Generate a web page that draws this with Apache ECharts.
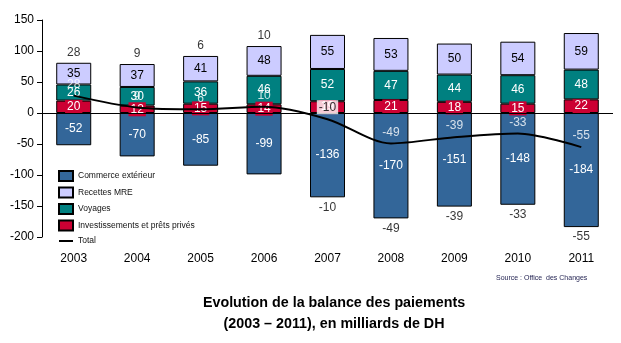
<!DOCTYPE html>
<html>
<head>
<meta charset="utf-8">
<script src="https://cdn.jsdelivr.net/npm/echarts@6/dist/echarts.min.js"></script>
<style>
  html, body { margin: 0; padding: 0; background: #fff; }
  #chart { width: 621px; height: 343px; }
</style>
</head>
<body>
<div id="chart"></div>
<script>
const years = ['2003', '2004', '2005', '2006', '2007', '2008', '2009', '2010', '2011'];
const commerce = [-52, -70, -85, -99, -136, -170, -151, -148, -184];
const investissements = [20, 12, 15, 14, 19, 21, 18, 15, 22];
const voyages = [26, 30, 36, 46, 52, 47, 44, 46, 48];
const recettesMRE = [35, 37, 41, 48, 55, 53, 50, 54, 59];
const total = [28, 9, 6, 10, -10, -49, -39, -33, -55];
const yTicks = [-200, -150, -100, -50, 0, 50, 100, 150];

const font = 'Liberation Sans';

// total shown above the stack when positive, below it when negative
const stackEdge = years.map((y, i) => {
  if (total[i] >= 0) {
    const pos = [investissements[i], voyages[i], recettesMRE[i]].filter(v => v > 0).reduce((a, b) => a + b, 0);
    return { value: pos, label: { position: 'top' } };
  }
  return { value: commerce[i], label: { position: 'bottom' } };
});

// thin horizontal stroke for the line series legend entry (corner dots keep the box size)
const lineIcon = 'path://M0,0h0.05v0.05h-0.05z M0,4.1h14v1.8h-14z M13.95,9.95h0.05v0.05h-0.05z';

const barBase = {
  type: 'bar',
  stack: 'bp',
  barWidth: 35,
  label: { show: true, position: 'inside', fontFamily: font, fontSize: 12 }
};

const chart = echarts.init(document.getElementById('chart'));

chart.setOption({
  animation: false,
  grid: { left: 42, right: 8, top: 20, bottom: 106 },
  title: [
    {
      text: 'Evolution de la balance des paiements\n(2003 – 2011), en milliards de DH',
      left: 329, top: 288, textAlign: 'center',
      textStyle: { fontFamily: font, fontSize: 14.3, fontWeight: 'bold', lineHeight: 21, color: '#000' }
    },
    {
      text: 'Source : Office  des Changes',
      left: 491, top: 270,
      textStyle: { fontFamily: font, fontSize: 7, fontWeight: 'normal', color: '#1f1f4f' }
    }
  ],
  legend: {
    orient: 'vertical',
    left: 53, top: 165,
    itemWidth: 14, itemHeight: 10, itemGap: 4.5,
    textStyle: { fontFamily: font, fontSize: 8.5, color: '#111' },
    data: [
      { name: 'Commerce extérieur', icon: 'rect' },
      { name: 'Recettes MRE', icon: 'rect' },
      { name: 'Voyages', icon: 'rect' },
      { name: 'Investissements et prêts privés', icon: 'rect' },
      { name: 'Total', icon: lineIcon, itemStyle: { color: '#000', borderWidth: 0 } }
    ]
  },
  xAxis: {
    type: 'category',
    data: years,
    axisLine: { show: false },
    axisTick: { show: false },
    axisLabel: { fontFamily: font, fontSize: 12, color: '#000', margin: 16 }
  },
  yAxis: {
    type: 'value',
    min: yTicks[0], max: yTicks[yTicks.length - 1], interval: 50,
    axisLine: { show: true, lineStyle: { color: '#000' } },
    axisTick: { show: true, length: 5, lineStyle: { color: '#000' } },
    splitLine: { show: false },
    axisLabel: { fontFamily: font, fontSize: 12, color: '#000', margin: 8 }
  },
  series: [
    Object.assign({}, barBase, {
      name: 'Commerce extérieur',
      data: commerce,
      itemStyle: { color: '#336699', borderColor: '#000', borderWidth: 1 },
      label: Object.assign({}, barBase.label, { color: '#fff' }),
      markLine: {
        silent: true, symbol: 'none', label: { show: false },
        lineStyle: { color: '#000', width: 1, type: 'solid' },
        data: [{ yAxis: 0 }]
      }
    }),
    Object.assign({}, barBase, {
      name: 'Investissements et prêts privés',
      data: investissements,
      itemStyle: { color: '#cc0033', borderColor: '#000', borderWidth: 1 },
      label: Object.assign({}, barBase.label, { color: '#fff', backgroundColor: '#cc0033', padding: [1, 2] })
    }),
    Object.assign({}, barBase, {
      name: 'Voyages',
      data: voyages,
      itemStyle: { color: '#008080', borderColor: '#000', borderWidth: 1 },
      label: Object.assign({}, barBase.label, { color: '#fff' })
    }),
    Object.assign({}, barBase, {
      name: 'Recettes MRE',
      data: recettesMRE,
      itemStyle: { color: '#ccccff', borderColor: '#000', borderWidth: 1 },
      label: Object.assign({}, barBase.label, { color: '#000' })
    }),
    {
      name: 'Total',
      type: 'line',
      z: 5,
      data: total,
      smooth: 0.3,
      symbol: 'none',
      lineStyle: { color: '#000', width: 2 },
      itemStyle: { color: '#000' }
    },
    {
      // value labels riding on the total line
      name: 'totalLabels',
      type: 'scatter',
      z: 6,
      symbolSize: 0,
      silent: true,
      data: total.map((v, i) => i === 4
        ? { value: v, label: { color: '#000', backgroundColor: '#fff', padding: [1, 2] } }
        : v),
      label: { show: true, position: 'top', distance: 5, color: '#fff', fontFamily: font, fontSize: 12 }
    },
    {
      name: 'totalEdge',
      type: 'scatter',
      symbolSize: 0,
      silent: true,
      data: stackEdge,
      label: {
        show: true, distance: 4, color: '#000', fontFamily: font, fontSize: 12,
        formatter: p => String(total[p.dataIndex])
      }
    }
  ]
});
</script>
</body>
</html>
